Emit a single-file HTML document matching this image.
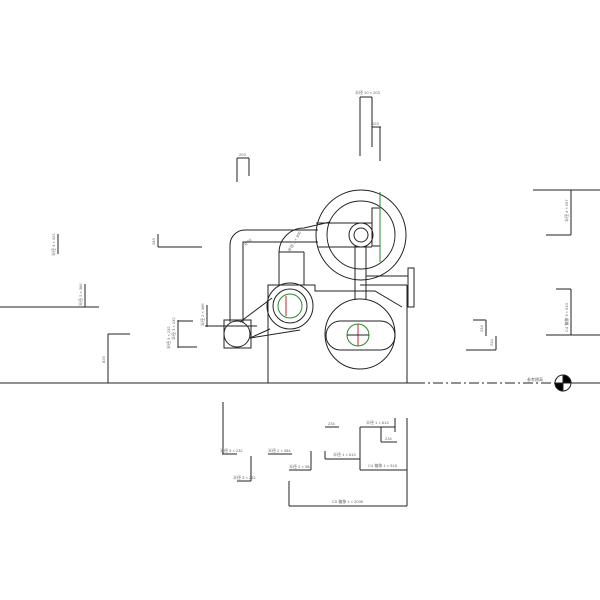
<!DOCTYPE html>
<html><head><meta charset="utf-8"><style>
html,body{margin:0;padding:0;background:#fff;}
svg{display:block}
text{font-family:"Liberation Sans","Noto Sans CJK SC",sans-serif;font-size:4px;fill:#666;stroke:none}
</style></head><body>
<svg width="600" height="600" viewBox="0 0 600 600" xmlns="http://www.w3.org/2000/svg" fill="none" stroke="#222" stroke-width="1">
<line x1="0" y1="383" x2="415" y2="383"/>
<line x1="415" y1="383" x2="555" y2="383" stroke-dasharray="10,3,2,3"/>
<line x1="571" y1="383" x2="600" y2="383"/>
<circle cx="563" cy="383" r="8"/>
<path d="M563 383 L563 375 A8 8 0 0 1 571 383 Z" fill="#000"/>
<path d="M563 383 L563 391 A8 8 0 0 1 555 383 Z" fill="#000"/>
<text x="527" y="381">参考標高</text>
<polyline points="268,383 268,285 315,285 315,291 375,291 402,307"/>
<line x1="407" y1="285" x2="407" y2="383"/>
<line x1="360" y1="285" x2="407" y2="285"/>
<rect x="408" y="268" width="6" height="39"/>
<circle cx="361" cy="235" r="45"/>
<circle cx="361" cy="235" r="34"/>
<circle cx="361" cy="235" r="12"/>
<circle cx="361" cy="235" r="7"/>
<rect x="372" y="208" width="8" height="38"/>
<line x1="380" y1="192" x2="380" y2="262" stroke="#2a8a2a"/>
<line x1="316" y1="223" x2="372" y2="223"/>
<line x1="318" y1="247" x2="372" y2="247"/>
<line x1="355" y1="246" x2="355" y2="300"/>
<line x1="366" y1="246" x2="366" y2="300"/>
<line x1="366" y1="276" x2="408" y2="276"/>
<circle cx="360" cy="334" r="35"/>
<rect x="326" y="321" width="69" height="29" rx="14.5"/>
<circle cx="358" cy="335" r="11" stroke="#2a8a2a"/>
<line x1="358" y1="324" x2="358" y2="346" stroke="#c22"/>
<line x1="347" y1="335" x2="369" y2="335"/>
<circle cx="290" cy="306" r="23"/>
<circle cx="290" cy="306" r="17"/>
<circle cx="290" cy="306" r="12" stroke="#2a8a2a"/>
<line x1="286" y1="296" x2="286" y2="316" stroke="#c22"/>
<path d="M279 285 L279 252 A25 25 0 0 1 304 228 L330 222"/>
<line x1="304" y1="252" x2="304" y2="285"/>
<line x1="279" y1="252" x2="304" y2="252"/>
<path d="M230 322 L230 245 A15 15 0 0 1 245 230 L318 230"/>
<path d="M243 322 L243 242 L318 242"/>
<rect x="224" y="320" width="27" height="28"/>
<circle cx="237" cy="334" r="13"/>
<line x1="205" y1="326" x2="257" y2="326"/>
<line x1="240" y1="322" x2="272" y2="298"/>
<line x1="250" y1="338" x2="270" y2="329"/>
<line x1="250" y1="338" x2="300" y2="330"/>
<text x="290" y="252" transform="rotate(-60 290 252)">半径 3 × 300</text>
<text x="246" y="246" transform="rotate(-45 246 246)">R 50</text>
<line x1="0" y1="307" x2="99" y2="307"/>
<line x1="85" y1="284" x2="85" y2="307"/>
<text x="82" y="306" transform="rotate(-90 82 306)">半径 2 × 386</text>
<line x1="58" y1="234" x2="58" y2="254"/>
<text x="55" y="256" transform="rotate(-90 55 256)">半径 4 × 322</text>
<line x1="108" y1="334" x2="108" y2="383"/>
<line x1="108" y1="334" x2="130" y2="334"/>
<text x="105" y="363" transform="rotate(-90 105 363)">829</text>
<line x1="158" y1="234" x2="158" y2="247"/>
<line x1="158" y1="247" x2="202" y2="247"/>
<text x="155" y="245" transform="rotate(-90 155 245)">283</text>
<line x1="237" y1="158" x2="237" y2="182"/>
<line x1="249" y1="158" x2="249" y2="176"/>
<line x1="237" y1="158" x2="249" y2="158"/>
<text x="239" y="156">203</text>
<line x1="207" y1="305" x2="207" y2="327"/>
<text x="204" y="326" transform="rotate(-90 204 326)">半径 2 × 386</text>
<line x1="178" y1="320" x2="178" y2="348"/>
<line x1="178" y1="321" x2="193" y2="321"/>
<line x1="178" y1="347" x2="197" y2="347"/>
<text x="175" y="340" transform="rotate(-90 175 340)">半径 3 × 232</text>
<text x="170" y="349" transform="rotate(-90 170 349)">半径 3 × 232</text>
<line x1="360" y1="97" x2="360" y2="156"/>
<line x1="372" y1="97" x2="372" y2="147"/>
<line x1="360" y1="97" x2="372" y2="97"/>
<text x="355" y="94">半径 10 × 203</text>
<line x1="380" y1="127" x2="380" y2="161"/>
<line x1="372" y1="127" x2="381" y2="127"/>
<text x="372" y="125">123</text>
<line x1="533" y1="190" x2="600" y2="190"/>
<line x1="546" y1="235" x2="571" y2="235"/>
<line x1="571" y1="190" x2="571" y2="235"/>
<text x="568" y="222" transform="rotate(-90 568 222)">半径 4 × 297</text>
<line x1="556" y1="289" x2="571" y2="289"/>
<line x1="546" y1="335" x2="600" y2="335"/>
<line x1="571" y1="289" x2="571" y2="335"/>
<text x="568" y="332" transform="rotate(-90 568 332)">C4 偏移 3 × 910</text>
<line x1="473" y1="320" x2="486" y2="320"/>
<line x1="486" y1="320" x2="486" y2="336"/>
<line x1="466" y1="350" x2="496" y2="350"/>
<line x1="496" y1="336" x2="496" y2="350"/>
<text x="483" y="332" transform="rotate(-90 483 332)">234</text>
<text x="493" y="346" transform="rotate(-90 493 346)">234</text>
<line x1="223" y1="402" x2="223" y2="454"/>
<line x1="222" y1="454" x2="237" y2="454"/>
<text x="220" y="452">半径 3 × 232</text>
<line x1="251" y1="456" x2="251" y2="481"/>
<line x1="237" y1="481" x2="251" y2="481"/>
<text x="233" y="479">半径 3 × 232</text>
<line x1="268" y1="454" x2="292" y2="454"/>
<text x="268" y="452">半径 2 × 384</text>
<line x1="311" y1="451" x2="311" y2="470"/>
<line x1="289" y1="470" x2="311" y2="470"/>
<text x="289" y="468">半径 2 × 384</text>
<line x1="289" y1="481" x2="289" y2="506"/>
<line x1="289" y1="506" x2="407" y2="506"/>
<text x="332" y="503">C5 偏移 1 × 2035</text>
<line x1="407" y1="418" x2="407" y2="506"/>
<line x1="325" y1="427" x2="339" y2="427"/>
<text x="328" y="425">234</text>
<line x1="325" y1="451" x2="325" y2="459"/>
<line x1="325" y1="459" x2="360" y2="459"/>
<text x="333" y="456">半径 1 × 613</text>
<line x1="360" y1="427" x2="360" y2="470"/>
<line x1="360" y1="427" x2="395" y2="427"/>
<line x1="395" y1="418" x2="395" y2="432"/>
<text x="366" y="424">半径 1 × 613</text>
<line x1="381" y1="427" x2="381" y2="442"/>
<line x1="381" y1="442" x2="397" y2="442"/>
<text x="385" y="440">234</text>
<line x1="360" y1="470" x2="407" y2="470"/>
<text x="368" y="467">C4 偏移 1 × 918</text>
</svg>
</body></html>
